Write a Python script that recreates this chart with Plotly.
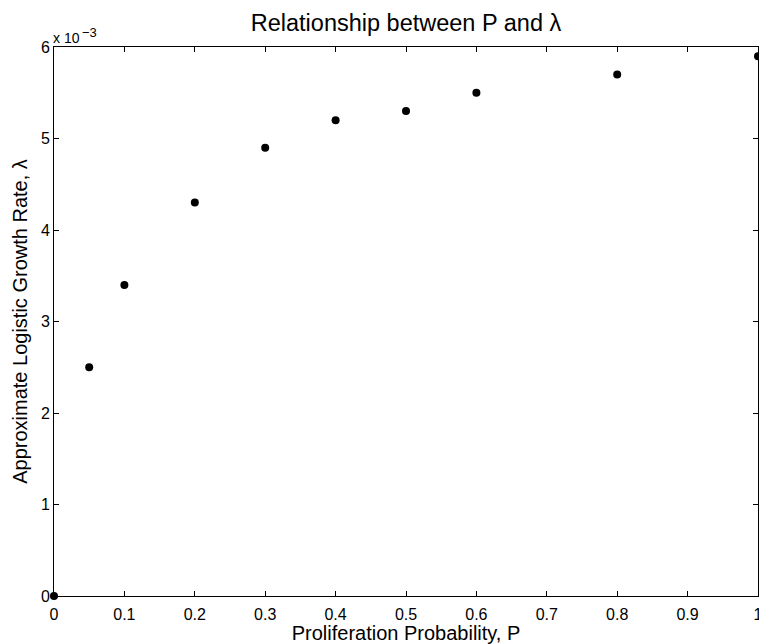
import plotly.graph_objects as go

# Data
prolif_prob = [0, 0.05, 0.1, 0.2, 0.3, 0.4, 0.5, 0.6, 0.8, 1.0]
growth_rate = [0, 2.5e-3, 3.4e-3, 4.3e-3, 4.9e-3, 5.2e-3, 5.3e-3, 5.5e-3, 5.7e-3, 5.9e-3]

x_ticks = [0, 0.1, 0.2, 0.3, 0.4, 0.5, 0.6, 0.7, 0.8, 0.9, 1.0]
x_tick_text = ["0", "0.1", "0.2", "0.3", "0.4", "0.5", "0.6", "0.7", "0.8", "0.9", "1"]
y_ticks = [0, 1e-3, 2e-3, 3e-3, 4e-3, 5e-3, 6e-3]
y_tick_text = ["0", "1", "2", "3", "4", "5", "6"]

FONT = "Liberation Sans, Arial, Helvetica, sans-serif"

fig = go.Figure()
fig.add_trace(go.Scatter(
    x=prolif_prob, y=growth_rate, mode="markers",
    marker=dict(color="black", size=8, line=dict(width=0)),
    cliponaxis=False, showlegend=False,
))

axis_common = dict(
    showgrid=False, zeroline=False, showline=True, linecolor="black", linewidth=1,
    mirror="allticks", ticks="inside", ticklen=5, tickwidth=1, tickcolor="black",
    tickfont=dict(family=FONT, size=16, color="black"), automargin=False,
    ticklabeloverflow="allow",
)

fig.update_layout(
    width=759, height=644,
    margin=dict(l=54, r=1, t=47, b=48),
    paper_bgcolor="white", plot_bgcolor="white",
    font=dict(family=FONT, color="black"),
    title=dict(
        text="Relationship between P and λ",
        font=dict(family=FONT, size=23.5, color="black"),
        x=0.5, xref="paper", xanchor="center",
        y=1, yref="paper", yanchor="bottom", pad=dict(b=16),
    ),
    xaxis=dict(
        range=[0, 1], tickvals=x_ticks, ticktext=x_tick_text, ticklabelstandoff=4,
        title=dict(text="Proliferation Probability, P",
                   font=dict(family=FONT, size=20, color="black"), standoff=0),
        **axis_common,
    ),
    yaxis=dict(
        range=[0, 0.006], tickvals=y_ticks, ticktext=y_tick_text,
        title=dict(text="Approximate Logistic Growth Rate, λ",
                   font=dict(family=FONT, size=20, color="black"), standoff=7),
        **axis_common,
    ),
    annotations=[
        dict(text="x 10", xref="paper", yref="paper", x=0, y=1,
             xanchor="left", yanchor="bottom", xshift=-3, yshift=-1, showarrow=False,
             font=dict(family=FONT, size=14, color="black")),
        dict(text="−3", xref="paper", yref="paper", x=0, y=1,
             xanchor="left", yanchor="bottom", xshift=26, yshift=5, showarrow=False,
             font=dict(family=FONT, size=13, color="black")),
    ],
)

# remove the browser's default 8px body margin so the 759x644 figure fills the window exactly
fig.write_html("out.html", config={"displayModeBar": False},
               post_script="document.body.style.margin='0';")
